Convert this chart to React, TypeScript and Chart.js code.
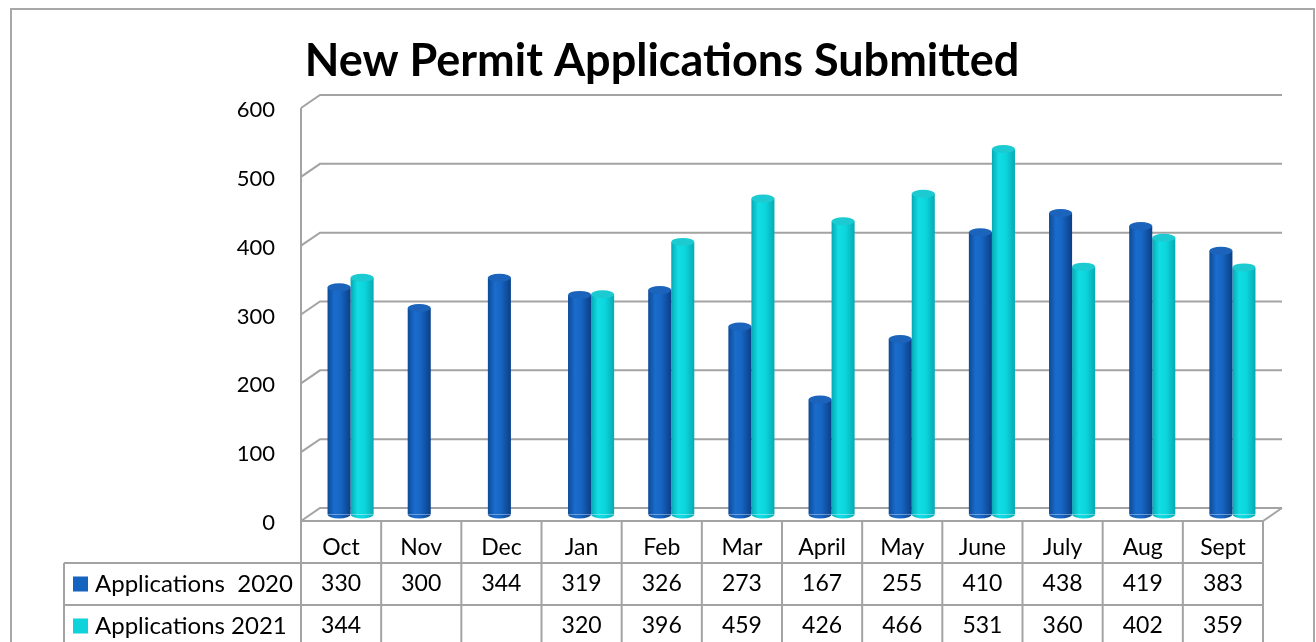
import React, { useEffect, useRef } from "react";
import { Chart, registerables } from "chart.js";

Chart.register(...registerables);

const categories = ["Oct", "Nov", "Dec", "Jan", "Feb", "Mar", "April", "May", "June", "July", "Aug", "Sept"];
const apps2020: (number | null)[] = [330, 300, 344, 319, 326, 273, 167, 255, 410, 438, 419, 383];
const apps2021: (number | null)[] = [344, null, null, 320, 396, 459, 426, 466, 531, 360, 402, 359];
const seriesLabels = ["Applications  2020", "Applications 2021"];
const seriesColors = ["#1565c0", "#0fd3da"];
const chartTitle = "New Permit Applications Submitted";

const FONT = "Lato, 'Noto Sans', sans-serif";
const GRID = "#a3a3a3";
const DX = 19; // depth offset of back wall
const DY = -13;
const BDX = 9.5; // bar depth offset (middle of the depth)
const BDY = -6.5;
const RY = 4; // cylinder cap radius (vertical)
const ROW_H = 42;

const bodyStops: [number, string][][] = [
  [
    [0, "#0c4a98"],
    [0.3, "#1a6ccc"],
    [0.55, "#1766c4"],
    [1, "#0b3f86"],
  ],
  [
    [0, "#06a9b5"],
    [0.3, "#12dde3"],
    [0.6, "#0cd6dd"],
    [1, "#07aab3"],
  ],
];
const capColors = ["#1c64bb", "#1ccbd2"];

const backdropPlugin = {
  id: "backdrop",
  beforeDraw(chart: any) {
    const { ctx, chartArea } = chart;
    const y = chart.scales.y;
    const x = chart.scales.x;
    const { left, right, bottom } = chartArea;
    ctx.save();
    // outer border
    ctx.strokeStyle = "#a8a8a8";
    ctx.lineWidth = 2;
    ctx.strokeRect(11, 9, 1303, 720);

    // 3D walls
    ctx.strokeStyle = GRID;
    ctx.lineWidth = 2;
    ctx.lineCap = "butt";
    y.ticks.forEach((t: any) => {
      const py = y.getPixelForValue(t.value);
      ctx.beginPath();
      ctx.moveTo(left, py);
      ctx.lineTo(left + DX, py + DY);
      ctx.lineTo(right + DX, py + DY);
      ctx.stroke();
    });
    // front left edge
    ctx.beginPath();
    ctx.moveTo(left, y.getPixelForValue(y.max));
    ctx.lineTo(left, bottom + 3 * ROW_H + 10);
    ctx.stroke();
    // floor front edge
    ctx.beginPath();
    ctx.moveTo(left, bottom);
    ctx.lineTo(right, bottom);
    ctx.lineTo(right + DX, bottom + DY);
    ctx.stroke();

    // data table
    const colW = (right - left) / categories.length;
    const tableLeft = 64;
    ctx.strokeStyle = GRID;
    ctx.lineWidth = 2;
    for (let i = 0; i <= categories.length; i++) {
      const cx = i === categories.length ? right : x.getPixelForValue(i) - colW / 2;
      ctx.beginPath();
      ctx.moveTo(cx, bottom);
      ctx.lineTo(cx, bottom + 3 * ROW_H + 10);
      ctx.stroke();
    }
    for (let r = 1; r <= 3; r++) {
      ctx.beginPath();
      ctx.moveTo(tableLeft, bottom + r * ROW_H);
      ctx.lineTo(right, bottom + r * ROW_H);
      ctx.stroke();
    }
    ctx.beginPath();
    ctx.moveTo(tableLeft, bottom + ROW_H);
    ctx.lineTo(tableLeft, bottom + 3 * ROW_H + 10);
    ctx.stroke();

    ctx.fillStyle = "#000";
    ctx.font = `23px ${FONT}`;
    ctx.textAlign = "center";
    ctx.textBaseline = "middle";
    categories.forEach((c, i) => {
      ctx.fillText(c, x.getPixelForValue(i), bottom + 27);
    });
    const series = [apps2020, apps2021];
    series.forEach((vals, s) => {
      const cy = bottom + ROW_H * (s + 1) + ROW_H / 2;
      ctx.textAlign = "center";
      ctx.fillStyle = "#000";
      ctx.font = `23px ${FONT}`;
      vals.forEach((v, i) => {
        if (v !== null) ctx.fillText(String(v), x.getPixelForValue(i), cy);
      });
      ctx.fillStyle = seriesColors[s];
      ctx.fillRect(73, cy - 7.5, 15, 15);
      ctx.fillStyle = "#000";
      ctx.textAlign = "left";
      ctx.font = `24px ${FONT}`;
      ctx.fillText(seriesLabels[s], 95, cy);
    });
    ctx.restore();
  },
};

function makeGrad(ctx: CanvasRenderingContext2D, left: number, width: number, stops: [number, string][]) {
  const g = ctx.createLinearGradient(left, 0, left + width, 0);
  stops.forEach(([o, c]) => g.addColorStop(o, c));
  return g;
}

const cylinderPlugin = {
  id: "cylinder",
  beforeDatasetsDraw(chart: any) {
    const ctx = chart.ctx;
    ctx.save();
    ctx.translate(BDX, BDY);
    chart.data.datasets.forEach((ds: any, di: number) => {
      const meta = chart.getDatasetMeta(di);
      meta.data.forEach((el: any, j: number) => {
        if (ds.data[j] === null || ds.data[j] === undefined) return;
        const { x, width, base } = el.getProps(["x", "width", "base"], true);
        const grad = makeGrad(ctx, x - width / 2, width, bodyStops[di]);
        el.options = Object.assign({}, el.options, { backgroundColor: grad, borderWidth: 0 });
        ctx.beginPath();
        ctx.ellipse(x, base, width / 2, RY, 0, 0, Math.PI);
        ctx.closePath();
        ctx.fillStyle = grad;
        ctx.fill();
      });
    });
  },
  afterDatasetsDraw(chart: any) {
    const ctx = chart.ctx;
    chart.data.datasets.forEach((ds: any, di: number) => {
      const meta = chart.getDatasetMeta(di);
      meta.data.forEach((el: any, j: number) => {
        if (ds.data[j] === null || ds.data[j] === undefined) return;
        const { x, y, width } = el.getProps(["x", "y", "width"], true);
        ctx.beginPath();
        ctx.ellipse(x, y, width / 2, RY, 0, 0, Math.PI * 2);
        ctx.fillStyle = capColors[di];
        ctx.fill();
      });
    });
    ctx.restore();
  },
};

export default function App() {
  const ref = useRef<HTMLCanvasElement>(null);
  useEffect(() => {
    document.body.style.margin = "0";
    const canvas = ref.current!;
    const chart = new Chart(canvas, {
      type: "bar",
      data: {
        labels: categories,
        datasets: [
          {
            label: seriesLabels[0],
            data: apps2020,
            backgroundColor: seriesColors[0],
            borderWidth: 0,
            categoryPercentage: 0.575,
            barPercentage: 1,
          },
          {
            label: seriesLabels[1],
            data: apps2021,
            backgroundColor: seriesColors[1],
            borderWidth: 0,
            categoryPercentage: 0.575,
            barPercentage: 1,
          },
        ],
      },
      options: {
        responsive: false,
        animation: false,
        layout: { padding: { left: 8, right: 0, top: 0, bottom: 642 - 521 } },
        scales: {
          x: { display: false },
          y: {
            min: 0,
            max: 600,
            afterFit: (s: any) => {
              s.width = 293;
            },
            ticks: {
              stepSize: 100,
              padding: 26,
              labelOffset: 2,
              color: "#000",
              font: { family: FONT, size: 22 },
            },
            grid: { display: false, drawTicks: false },
            border: { display: false },
          },
          yRight: {
            position: "right",
            min: 0,
            max: 600,
            afterFit: (s: any) => {
              s.width = 53;
            },
            ticks: { display: false },
            grid: { display: false, drawTicks: false },
            border: { display: false },
          },
        },
        plugins: {
          legend: { display: false },
          tooltip: { enabled: false },
          title: {
            display: true,
            text: chartTitle,
            color: "#000",
            font: { family: FONT, size: 45, weight: "bold" },
            padding: { top: 34, bottom: 20 },
          },
        },
      },
      plugins: [backdropPlugin, cylinderPlugin],
    } as any);
    return () => chart.destroy();
  }, []);
  return (
    <div style={{ width: 1316, height: 642, position: "relative", overflow: "hidden" }}>
      <canvas ref={ref} width={1316} height={642} style={{ display: "block" }} />
    </div>
  );
}
